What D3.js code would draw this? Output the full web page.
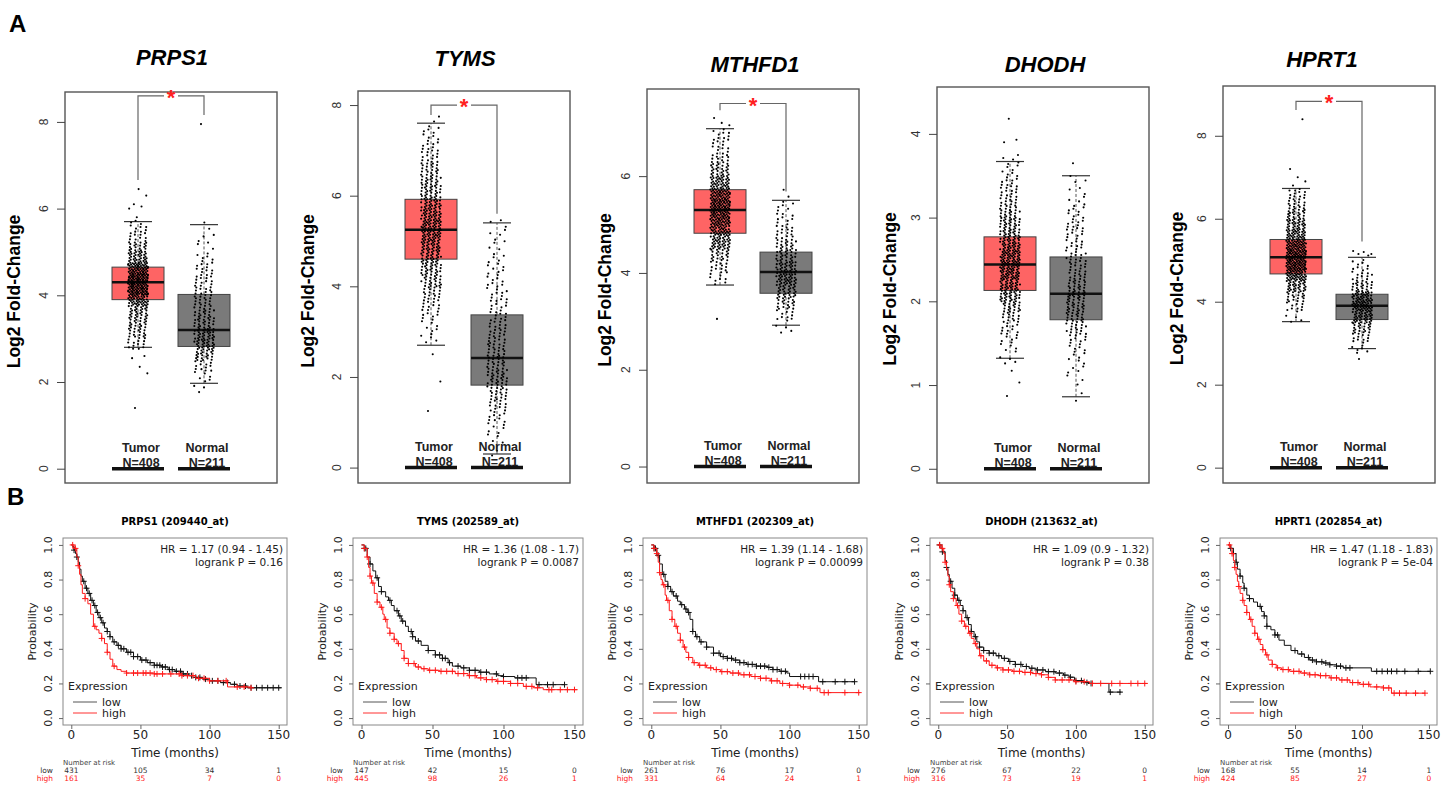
<!DOCTYPE html>
<html>
<head>
<meta charset="utf-8">
<script src="https://cdn.jsdelivr.net/npm/d3@7"></script>
<style>
  body { margin: 0; background: #fff; }
</style>
</head>
<body>
<svg id="fig" width="1450" height="785"></svg>
<script>
// ===== Panel A: expression box plots =====
const genes = ['PRPS1', 'TYMS', 'MTHFD1', 'DHODH', 'HPRT1'];
const groups = ['Tumor', 'Normal'];
const groupN = ['N=408', 'N=211'];
const yTicks = [[0, 2, 4, 6, 8], [0, 2, 4, 6, 8], [0, 2, 4, 6], [0, 1, 2, 3, 4], [0, 2, 4, 6, 8]];

// [lower whisker, Q1, median, Q3, upper whisker]
const tumorStats = [[2.8, 3.9, 4.3, 4.65, 5.7], [2.7, 4.6, 5.25, 5.92, 7.6], [3.75, 4.82, 5.3, 5.72, 6.98], [1.32, 2.13, 2.44, 2.77, 3.67], [3.52, 4.67, 5.07, 5.5, 6.73]];
const normalStats = [[1.97, 2.82, 3.2, 4.02, 5.63], [0.3, 1.82, 2.42, 3.37, 5.4], [2.92, 3.58, 4.02, 4.43, 5.5], [0.86, 1.78, 2.09, 2.53, 3.5], [2.87, 3.57, 3.9, 4.18, 5.07]];

// sample counts per value bin
const binWidth = [0.25, 0.25, 0.25, 0.125, 0.25];
const tumorBinStart = [2.75, 2.75, 3.75, 1.25, 3.5];
const normalBinStart = [1.75, 0.25, 2.75, 0.75, 2.75];
const prps1TumorCounts = [12, 18, 22, 25, 45, 70, 72, 58, 34, 22, 12, 8];
const prps1NormalCounts = [3, 6, 12, 22, 30, 30, 22, 18, 16, 14, 12, 10, 7, 3, 3, 2];
const tymsTumorCounts = [5, 6, 9, 12, 16, 22, 26, 30, 34, 40, 40, 36, 32, 26, 22, 18, 12, 9, 7, 3];
const tymsNormalCounts = [2, 4, 6, 9, 12, 16, 20, 20, 18, 16, 14, 13, 11, 10, 9, 8, 7, 5, 4, 4, 3];
const mthfd1TumorCounts = [8, 14, 22, 38, 46, 58, 62, 54, 40, 26, 16, 10, 10];
const mthfd1NormalCounts = [4, 10, 20, 28, 38, 34, 26, 20, 14, 9, 6, 2];
const dhodhTumorCounts = [4, 5, 8, 9, 14, 20, 30, 34, 40, 43, 41, 34, 28, 26, 19, 15, 12, 9, 6, 5];
const dhodhNormalCounts = [1, 1, 3, 4, 5, 7, 10, 14, 18, 21, 22, 18, 15, 13, 11, 10, 10, 9, 7, 5, 3, 3];
const hprt1TumorCounts = [4, 10, 18, 30, 48, 62, 60, 50, 40, 32, 22, 15, 12];
const hprt1NormalCounts = [6, 12, 22, 36, 46, 40, 22, 12, 8, 4];
const tumorCounts = [prps1TumorCounts, tymsTumorCounts, mthfd1TumorCounts, dhodhTumorCounts, hprt1TumorCounts];
const normalCounts = [prps1NormalCounts, tymsNormalCounts, mthfd1NormalCounts, dhodhNormalCounts, hprt1NormalCounts];
const tumorOutliers = [[1.4, 2.2, 2.35, 2.55, 2.6, 5.8, 6.0, 6.05, 6.1, 6.3, 6.45], [1.25, 1.9, 2.5], [3.05, 7.05, 7.1, 7.2], [0.87, 1.03, 1.17, 3.9, 3.93, 4.18], [6.8, 6.9, 7.0, 7.2, 8.4]];
const normalOutliers = [[7.95], [], [], [3.65], [2.62, 5.15, 5.2]];
// significance bracket: [top, tumor end, normal end]
const brackets = [[8.6, 6.66, 8.16], [8.0, 7.78, 5.6], [7.5, 7.36, 5.68], null, [8.83, 8.62, 5.45]];

// ===== Panel B: Kaplan-Meier curves =====
const kmTitles = ['PRPS1 (209440_at)', 'TYMS (202589_at)', 'MTHFD1 (202309_at)', 'DHODH (213632_at)', 'HPRT1 (202854_at)'];
const hrText = ['HR = 1.17 (0.94 - 1.45)', 'HR = 1.36 (1.08 - 1.7)', 'HR = 1.39 (1.14 - 1.68)', 'HR = 1.09 (0.9 - 1.32)', 'HR = 1.47 (1.18 - 1.83)'];
const pText = ['logrank P = 0.16', 'logrank P = 0.0087', 'logrank P = 0.00099', 'logrank P = 0.38', 'logrank P = 5e-04'];
const timeTicks = [0, 50, 100, 150];
const probTicks = [0, 0.2, 0.4, 0.6, 0.8, 1.0];
const riskLow = [[431, 105, 34, 1], [147, 42, 15, 0], [261, 76, 17, 0], [276, 67, 22, 0], [168, 55, 14, 1]];
const riskHigh = [[161, 35, 7, 0], [445, 98, 26, 1], [331, 64, 24, 1], [316, 73, 19, 1], [424, 85, 27, 0]];

const prps1Low = [[0,1],[1,0.99],[2,0.97],[3,0.95],[4,0.93],[5,0.9],[6,0.86],[7,0.82],[8,0.79],[10,0.75],[12,0.72],[14,0.68],[16,0.65],[18,0.61],[20,0.58],[22,0.55],[24,0.52],[26,0.5],[28,0.47],[30,0.44],[33,0.42],[36,0.4],[40,0.38],[45,0.355],[50,0.335],[55,0.32],[60,0.305],[65,0.295],[70,0.28],[75,0.27],[80,0.255],[85,0.245],[90,0.235],[95,0.225],[100,0.215],[108,0.205],[115,0.195],[120,0.185],[127,0.175],[152,0.175]];
const prps1High = [[0,1],[2,0.98],[4,0.93],[5,0.88],[6,0.83],[7,0.77],[8,0.72],[10,0.69],[12,0.66],[14,0.6],[16,0.53],[18,0.51],[20,0.49],[22,0.46],[24,0.43],[26,0.38],[28,0.34],[30,0.3],[33,0.28],[36,0.27],[40,0.26],[60,0.255],[80,0.245],[90,0.23],[100,0.215],[113,0.18],[130,0.175]];
const tymsLow = [[0,1],[2,0.98],[4,0.93],[6,0.89],[8,0.85],[10,0.81],[12,0.76],[14,0.73],[17,0.7],[19,0.68],[21,0.65],[23,0.62],[26,0.59],[28,0.56],[31,0.53],[33,0.5],[36,0.47],[38,0.445],[42,0.42],[47,0.39],[52,0.365],[57,0.345],[61,0.32],[64,0.3],[70,0.29],[76,0.276],[83,0.265],[90,0.255],[96,0.245],[100,0.24],[108,0.232],[123,0.193],[143,0.193]];
const tymsHigh = [[0,1],[2,0.98],[4,0.93],[5,0.87],[6,0.82],[7,0.78],[9,0.72],[11,0.67],[13,0.64],[15,0.6],[16,0.57],[18,0.52],[20,0.49],[23,0.455],[25,0.43],[28,0.39],[30,0.345],[33,0.315],[38,0.295],[42,0.285],[47,0.276],[55,0.27],[66,0.257],[75,0.245],[81,0.232],[88,0.222],[95,0.212],[105,0.2],[114,0.183],[121,0.175],[128,0.164],[152,0.164]];
const mthfd1Low = [[0,1],[2,0.98],[4,0.94],[6,0.89],[8,0.83],[10,0.79],[12,0.76],[14,0.73],[16,0.705],[19,0.675],[21,0.655],[24,0.63],[26,0.61],[28,0.57],[30,0.5],[32,0.47],[35,0.44],[40,0.41],[45,0.375],[50,0.355],[55,0.345],[59,0.335],[64,0.32],[69,0.31],[76,0.3],[84,0.293],[88,0.28],[93,0.27],[98,0.26],[100,0.24],[121,0.21],[147,0.21]];
const mthfd1High = [[0,1],[2,0.98],[4,0.95],[5,0.9],[6,0.84],[7,0.8],[8,0.77],[10,0.71],[11,0.68],[13,0.62],[15,0.57],[17,0.53],[19,0.49],[21,0.45],[23,0.41],[25,0.38],[27,0.35],[30,0.32],[34,0.305],[40,0.29],[45,0.28],[50,0.268],[57,0.26],[64,0.25],[72,0.24],[79,0.23],[86,0.215],[93,0.2],[100,0.19],[108,0.18],[115,0.172],[122,0.147],[151,0.147]];
const dhodhLow = [[0,1],[2,0.98],[3,0.96],[5,0.91],[6,0.87],[7,0.83],[8,0.79],[10,0.75],[12,0.71],[14,0.68],[16,0.65],[18,0.62],[20,0.58],[22,0.54],[24,0.5],[26,0.47],[28,0.44],[30,0.41],[33,0.39],[37,0.375],[42,0.36],[46,0.345],[51,0.327],[56,0.31],[61,0.298],[66,0.288],[71,0.278],[78,0.268],[85,0.26],[91,0.248],[95,0.236],[99,0.216],[105,0.205],[109,0.2],[124,0.15],[133,0.15]];
const dhodhHigh = [[0,1],[2,0.98],[4,0.95],[5,0.9],[6,0.86],[7,0.82],[8,0.77],[9,0.73],[11,0.69],[13,0.65],[15,0.6],[17,0.56],[19,0.53],[22,0.49],[24,0.46],[26,0.43],[28,0.4],[30,0.36],[33,0.33],[37,0.305],[42,0.29],[47,0.278],[54,0.27],[61,0.264],[68,0.257],[75,0.25],[80,0.235],[85,0.22],[99,0.21],[110,0.2],[152,0.2]];
const hprt1Low = [[0,1],[2,0.98],[4,0.95],[6,0.9],[7,0.86],[9,0.82],[11,0.78],[12,0.75],[14,0.71],[16,0.69],[19,0.67],[22,0.645],[25,0.615],[27,0.59],[29,0.53],[32,0.51],[35,0.48],[38,0.45],[42,0.42],[47,0.39],[52,0.37],[57,0.35],[61,0.335],[66,0.325],[71,0.318],[76,0.308],[81,0.3],[86,0.29],[107,0.27],[151,0.27]];
const hprt1High = [[0,1],[2,0.98],[3,0.95],[4,0.91],[5,0.87],[6,0.83],[7,0.79],[8,0.76],[9,0.72],[11,0.68],[12,0.65],[14,0.61],[16,0.57],[18,0.53],[20,0.49],[22,0.455],[24,0.425],[26,0.395],[28,0.365],[30,0.335],[33,0.31],[36,0.29],[40,0.28],[46,0.27],[54,0.26],[61,0.25],[68,0.245],[76,0.232],[83,0.22],[91,0.205],[98,0.195],[106,0.18],[116,0.174],[122,0.144],[147,0.144]];

// censored times (+ marks)
const prps1LowCens = [2,4,9,11,13,15,17,19,21,23,26,28,31,34,36,38,41,43,45,48,51,54,57,60,62,64,66,68,71,73,76,79,81,84,87,90,93,97,102,106,110,113,118,122,126,130,134,138,142,146,150];
const prps1HighCens = [1,3,5,10,17,22,26,31,40,45,48,52,54,57,60,62,66,72,78,80,84,88,92,96,100,106,112,120,125,130];
const tymsLowCens = [2,3,6,11,14,20,25,27,29,35,36,40,47,52,55,57,59,62,68,72,76,80,84,88,95,100,110,113,116,125,131,135,143];
const tymsHighCens = [2,4,6,8,11,14,17,20,23,26,30,33,37,40,44,48,52,56,60,64,68,72,76,80,84,88,92,96,100,105,110,116,120,124,132,134,140,145,150];
const mthfd1LowCens = [2,3,5,9,12,15,18,22,25,27,30,33,36,40,45,49,52,55,58,61,64,67,70,73,76,79,82,85,88,91,94,97,108,111,114,117,124,133,140,147];
const mthfd1HighCens = [2,4,6,9,12,15,18,21,24,27,31,35,39,43,47,51,55,59,63,67,71,75,79,83,87,91,95,100,106,110,115,120,125,128,140,150];
const dhodhLowCens = [1,3,6,9,12,15,18,21,24,27,30,33,37,40,44,48,52,56,60,64,68,72,76,80,84,88,92,96,100,104,108,111,125,132];
const dhodhHighCens = [1,3,5,8,11,14,17,20,23,27,31,35,39,43,47,51,55,59,63,67,71,75,80,85,90,95,100,106,112,118,126,132,140,145,150];
const hprt1LowCens = [2,4,6,9,12,16,24,27,29,35,37,50,55,60,63,66,70,73,76,81,84,88,91,111,115,119,122,126,132,142,151];
const hprt1HighCens = [1,3,5,8,11,14,17,20,23,26,29,33,37,41,45,49,53,57,61,65,69,73,77,81,85,89,93,97,101,105,111,116,120,124,128,133,140,147];

const lowCurves = [prps1Low, tymsLow, mthfd1Low, dhodhLow, hprt1Low];
const highCurves = [prps1High, tymsHigh, mthfd1High, dhodhHigh, hprt1High];
const lowCens = [prps1LowCens, tymsLowCens, mthfd1LowCens, dhodhLowCens, hprt1LowCens];
const highCens = [prps1HighCens, tymsHighCens, mthfd1HighCens, dhodhHighCens, hprt1HighCens];

// ===== layout =====
const boxLeft = [65, 358, 647, 937, 1223];
const boxTop = [92, 91, 89, 87, 86];
const boxBottom = 483;
const boxW = 212;
const yDomain = [[-0.33, 8.69], [-0.34, 8.31], [-0.34, 7.8], [-0.17, 4.56], [-0.37, 9.2]];
const titleX = [172, 465, 755, 1045, 1322];
const titleY = [65, 66, 72, 72, 67];
const ylabX = [14, 308, 605, 890, 1177];
const kmLeft = [63, 353, 643, 930, 1220];
const kmWidth = [224, 230, 224, 223, 217];
const kmTop = 538, kmBottom = 725;

const svg = d3.select('#fig');
svg.append('rect').attr('width', 1450).attr('height', 785).attr('fill', '#fff');
const sansA = 'Liberation Sans, Arial, sans-serif';
const sansB = 'DejaVu Sans, sans-serif';

svg.append('text').attr('x', 9).attr('y', 32).text('A')
    .attr('font-family', sansA).attr('font-weight', 'bold').attr('font-size', 24);
svg.append('text').attr('x', 7).attr('y', 505).text('B')
    .attr('font-family', sansA).attr('font-weight', 'bold').attr('font-size', 24);

// expand bin counts into dots; position inside a bin follows an R2 low-discrepancy layout
function dotPoints(start, w, counts, outliers) {
    let pts = [];
    counts.forEach((c, k) => {
        for (let j = 0; j < c; j++) {
            let u = (0.5 + (j + k * 7) * 0.7548776662) % 1;
            let v = (0.5 + (j + k * 3) * 0.5698402910) % 1;
            pts.push({ v: start + w * (k + v), u: u });
        }
    });
    outliers.forEach((o, i) => pts.push({ v: o, u: (0.35 + i * 0.618034) % 1 }));
    return pts;
}

function drawBoxPanel(p) {
    let L = boxLeft[p], T = boxTop[p], B = boxBottom;
    let y = d3.scaleLinear().domain(yDomain[p]).range([B, T]);
    let x = d3.scalePoint().domain(groups).range([L + 73, L + 139]);
    let g = svg.append('g');

    g.append('text').attr('x', titleX[p]).attr('y', titleY[p]).text(genes[p])
        .attr('text-anchor', 'middle').attr('font-family', sansA)
        .attr('font-weight', 'bold').attr('font-style', 'italic').attr('font-size', 22);

    g.append('rect').attr('x', L).attr('y', T).attr('width', boxW).attr('height', B - T)
        .attr('fill', 'none').attr('stroke', '#555').attr('stroke-width', 1.4);

    // y axis ticks
    let ax = g.append('g').attr('transform', `translate(${L},0)`)
        .call(d3.axisLeft(y).tickValues(yTicks[p]).tickSize(8).tickFormat(''));
    ax.select('.domain').remove();
    ax.selectAll('line').attr('stroke', '#444');
    g.selectAll(null).data(yTicks[p]).enter().append('text')
        .attr('transform', d => `translate(${L - 21},${y(d)}) rotate(-90)`)
        .attr('text-anchor', 'middle').attr('dy', '0.35em')
        .attr('font-family', sansA).attr('font-size', 12).attr('fill', '#333')
        .text(d => d);

    g.append('text').attr('transform', `translate(${ylabX[p]},${(T + B) / 2 + 4}) rotate(-90)`)
        .attr('text-anchor', 'middle').attr('dy', '0.35em')
        .attr('font-family', sansA).attr('font-weight', 'bold').attr('font-size', 17.5)
        .text('Log2 Fold-Change');

    let stats = [tumorStats[p], normalStats[p]];
    let fills = ['#fe6464', '#7a7a7a'];
    let bw = 52;
    groups.forEach((grp, gi) => {
        let s = stats[gi], cx = x(grp);
        // whiskers
        [[s[0], s[1]], [s[3], s[4]]].forEach(seg => {
            g.append('line').attr('x1', cx).attr('x2', cx).attr('y1', y(seg[0])).attr('y2', y(seg[1]))
                .attr('stroke', '#555').attr('stroke-dasharray', '3,2');
        });
        [s[0], s[4]].forEach(v => {
            g.append('line').attr('x1', cx - 14).attr('x2', cx + 14).attr('y1', y(v)).attr('y2', y(v))
                .attr('stroke', '#333').attr('stroke-width', 1.2);
        });
        g.append('rect').attr('x', cx - bw / 2).attr('y', y(s[3])).attr('width', bw)
            .attr('height', y(s[1]) - y(s[3])).attr('fill', fills[gi])
            .attr('stroke', '#444').attr('stroke-width', 1);
        g.append('line').attr('x1', cx - bw / 2).attr('x2', cx + bw / 2).attr('y1', y(s[2])).attr('y2', y(s[2]))
            .attr('stroke', '#111').attr('stroke-width', 2.5);

        // jittered samples
        let pts = gi == 0
            ? dotPoints(tumorBinStart[p], binWidth[p], tumorCounts[p], tumorOutliers[p])
            : dotPoints(normalBinStart[p], binWidth[p], normalCounts[p], normalOutliers[p]);
        g.selectAll(null).data(pts).enter().append('circle')
            .attr('cx', d => cx + (d.u - 0.5) * 20)
            .attr('cy', d => y(d.v))
            .attr('r', 1.05).attr('fill', '#000');

        // group label and N
        g.append('text').attr('x', cx + 3).attr('y', y(0) - 17).text(grp)
            .attr('text-anchor', 'middle').attr('font-family', sansA).attr('font-weight', 'bold')
            .attr('font-size', 12.5).attr('fill', '#222');
        g.append('text').attr('x', cx + 3).attr('y', y(0) - 2).text(groupN[gi])
            .attr('text-anchor', 'middle').attr('font-family', sansA).attr('font-weight', 'bold')
            .attr('font-size', 12.5).attr('fill', '#222');
        g.append('line').attr('x1', cx - bw / 2).attr('x2', cx + bw / 2).attr('y1', y(0)).attr('y2', y(0))
            .attr('stroke', '#111').attr('stroke-width', 3.5);
    });

    // significance bracket
    let br = brackets[p];
    if (br) {
        let x1 = x('Tumor'), x2 = x('Normal');
        g.append('path')
            .attr('d', `M${x1},${y(br[1])}V${y(br[0])}H${x2}V${y(br[2])}`)
            .attr('fill', 'none').attr('stroke', '#666').attr('stroke-width', 1.2);
        g.append('rect').attr('x', (x1 + x2) / 2 - 7).attr('y', y(br[0]) - 2).attr('width', 14).attr('height', 4).attr('fill', '#fff');
        g.append('text').attr('x', (x1 + x2) / 2).attr('y', y(br[0]) + 9).text('*')
            .attr('text-anchor', 'middle').attr('font-family', sansA).attr('font-weight', 'bold')
            .attr('font-size', 22).attr('fill', '#ff2020');
    }
}

function survAt(curve, t) {
    let i = d3.bisector(d => d[0]).right(curve, t) - 1;
    return curve[Math.max(0, i)][1];
}

function drawKM(p) {
    let L = kmLeft[p], W = kmWidth[p], T = kmTop, B = kmBottom;
    let x = d3.scaleLinear().domain([-6, 156]).range([L, L + W]);
    let y = d3.scaleLinear().domain([-0.04, 1.04]).range([B, T]);
    let g = svg.append('g');

    g.append('text').attr('x', L + W / 2).attr('y', 525).text(kmTitles[p])
        .attr('text-anchor', 'middle').attr('font-family', sansB).attr('font-weight', 'bold').attr('font-size', 10);

    g.append('rect').attr('x', L).attr('y', T).attr('width', W).attr('height', B - T)
        .attr('fill', 'none').attr('stroke', '#888').attr('stroke-width', 1);

    let ax = g.append('g').attr('transform', `translate(0,${B})`)
        .call(d3.axisBottom(x).tickValues(timeTicks).tickSize(4).tickFormat(''));
    ax.select('.domain').remove();
    ax.selectAll('line').attr('stroke', '#666');
    g.selectAll(null).data(timeTicks).enter().append('text')
        .attr('x', d => x(d)).attr('y', B + 14).text(d => d)
        .attr('text-anchor', 'middle').attr('font-family', sansB).attr('font-size', 12).attr('fill', '#222');

    let ay = g.append('g').attr('transform', `translate(${L},0)`)
        .call(d3.axisLeft(y).tickValues(probTicks).tickSize(4).tickFormat(''));
    ay.select('.domain').remove();
    ay.selectAll('line').attr('stroke', '#666');
    g.selectAll(null).data(probTicks).enter().append('text')
        .attr('transform', d => `translate(${L - 11},${y(d)}) rotate(-90)`)
        .attr('text-anchor', 'middle').text(d => d.toFixed(1))
        .attr('font-family', sansB).attr('font-size', 11).attr('fill', '#222');

    g.append('text').attr('x', L + W / 2).attr('y', 757).text('Time (months)')
        .attr('text-anchor', 'middle').attr('font-family', sansB).attr('font-size', 12).attr('fill', '#222');
    g.append('text').attr('transform', `translate(${L - 27},${(T + B) / 2}) rotate(-90)`)
        .attr('text-anchor', 'middle').text('Probability')
        .attr('font-family', sansB).attr('font-size', 11).attr('fill', '#222');

    g.append('text').attr('x', L + W - 4).attr('y', T + 15).text(hrText[p])
        .attr('text-anchor', 'end').attr('font-family', sansB).attr('font-size', 10.5).attr('fill', '#222');
    g.append('text').attr('x', L + W - 4).attr('y', T + 28).text(pText[p])
        .attr('text-anchor', 'end').attr('font-family', sansB).attr('font-size', 10.5).attr('fill', '#222');

    let line = d3.line().x(d => x(d[0])).y(d => y(d[1])).curve(d3.curveStepAfter);
    let sets = [
        { curve: lowCurves[p], cens: lowCens[p], color: '#111' },
        { curve: highCurves[p], cens: highCens[p], color: '#ff1a1a' }
    ];
    sets.forEach(s => {
        g.append('path').attr('d', line(s.curve)).attr('fill', 'none')
            .attr('stroke', s.color).attr('stroke-width', 1);
        g.append('path')
            .attr('d', s.cens.map(t => {
                let px = x(t), py = y(survAt(s.curve, t));
                return `M${px - 3},${py}H${px + 3}M${px},${py - 3}V${py + 3}`;
            }).join(''))
            .attr('stroke', s.color).attr('stroke-width', 1).attr('fill', 'none');
    });

    // legend
    g.append('text').attr('x', L + 5).attr('y', 690).text('Expression')
        .attr('font-family', sansB).attr('font-size', 11).attr('fill', '#222');
    [['low', '#555', 702], ['high', '#ff3030', 713]].forEach(e => {
        g.append('line').attr('x1', L + 10).attr('x2', L + 34).attr('y1', e[2]).attr('y2', e[2])
            .attr('stroke', e[1]).attr('stroke-width', 1);
        g.append('text').attr('x', L + 39).attr('y', e[2] + 4).text(e[0])
            .attr('font-family', sansB).attr('font-size', 11).attr('fill', '#222');
    });

    // number at risk
    g.append('text').attr('x', L).attr('y', 765).text('Number at risk')
        .attr('font-family', sansB).attr('font-size', 7).attr('fill', '#444');
    [[riskLow[p], 'low', '#333', 773], [riskHigh[p], 'high', '#ff2020', 781]].forEach(r => {
        g.append('text').attr('x', L - 10).attr('y', r[3]).text(r[1])
            .attr('text-anchor', 'end').attr('font-family', sansB).attr('font-size', 7.5).attr('fill', r[2]);
        g.selectAll(null).data(r[0]).enter().append('text')
            .attr('x', (d, i) => x(timeTicks[i])).attr('y', r[3]).text(d => d)
            .attr('text-anchor', 'middle').attr('font-family', sansB).attr('font-size', 7.5).attr('fill', r[2]);
    });
}

genes.forEach((gname, p) => {
    drawBoxPanel(p);
    drawKM(p);
});
</script>
</body>
</html>
